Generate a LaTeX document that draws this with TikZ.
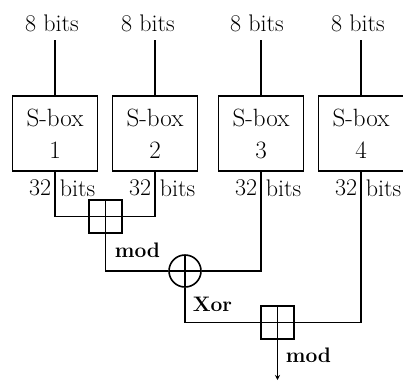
\documentclass[tikz,border=0pt]{standalone}
\usetikzlibrary{arrows.meta}
\begin{document}
\begin{tikzpicture}[x=1pt,y=-1pt,
  line width=1.6pt,
  bitlbl/.style={inner sep=0pt,font=\fontsize{24}{28}\selectfont},
  sboxnode/.style={draw,minimum width=85pt,minimum height=75pt,inner sep=0pt,align=center,
    font=\fontsize{25}{32}\selectfont},
  opname/.style={inner sep=0pt,font=\fontsize{21}{24}\selectfont\bfseries},
  modbox/.style={draw,minimum size=33pt,inner sep=0pt,
    path picture={\draw (path picture bounding box.north) -- (path picture bounding box.south)
      (path picture bounding box.west) -- (path picture bounding box.east);}},
  xorcirc/.style={draw,circle,minimum size=32pt,inner sep=0pt,
    path picture={\draw (path picture bounding box.north) -- (path picture bounding box.south)
      (path picture bounding box.west) -- (path picture bounding box.east);}}
]
\useasboundingbox (0,0) rectangle (403,380);
% input labels
\node[bitlbl] (i1) at (52,23) {8 bits};
\node[bitlbl] (i2) at (148,23) {8 bits};
\node[bitlbl] (i3) at (257,23) {8 bits};
\node[bitlbl] (i4) at (358,23) {8 bits};
% s-boxes
\node[sboxnode] (s1) at (55,133.5) {S-box\\1};
\node[sboxnode] (s2) at (155,133.5) {S-box\\2};
\node[sboxnode] (s3) at (261,133.5) {S-box\\3};
\node[sboxnode] (s4) at (361,133.5) {S-box\\4};
\foreach \i in {1,2,3,4}{\draw (s\i.north) -- (s\i.north |- 0,40);}
% 32 bits labels
\foreach \i in {1,2,3,4}{
  \path (s\i.south) ++(-3,16) node[bitlbl,anchor=east] (a\i) {32};
  \path (s\i.south) ++(4,16) node[bitlbl,anchor=west] (b\i) {bits};
}
% operators
\node[modbox] (m1) at (105.5,216.5) {};
\node[xorcirc] (x1) at (185,271) {};
\node[modbox] (m2) at (277.5,322.5) {};
\coordinate (out) at (277.5,380);
% connectors
\draw (s1.south) |- (m1.west);
\draw (s2.south) |- (m1.east);
\draw (m1.south) |- (x1.west);
\draw (s3.south) |- (x1.east);
\draw (x1.south) |- (m2.west);
\draw (s4.south) |- (m2.east);
\draw[-{Stealth[length=5pt,width=5pt]}] (m2.south) -- (out);
% operator labels
\node[opname,anchor=west] (l1) at (114,250) {mod};
\node[opname,anchor=west] (l2) at (192,304) {Xor};
\node[opname,anchor=west] (l3) at (285,355) {mod};
\end{tikzpicture}
\end{document}
